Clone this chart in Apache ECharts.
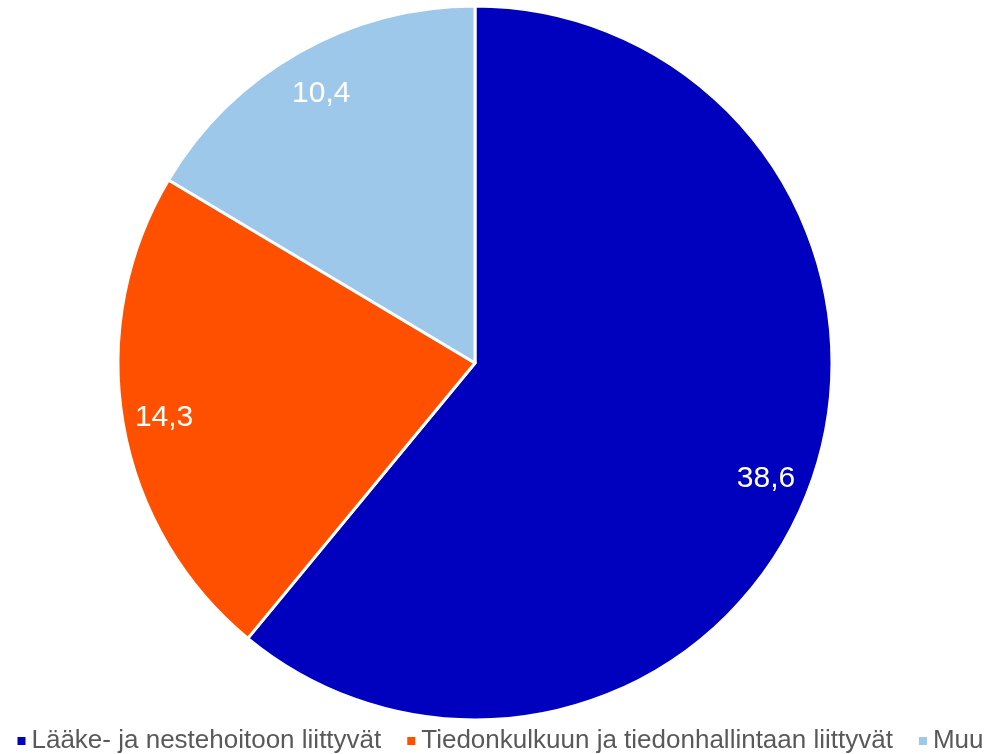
<!DOCTYPE html>
<html>
<head>
<meta charset="utf-8">
<script src="https://cdn.jsdelivr.net/npm/echarts@6/dist/echarts.min.js"></script>
<style>html,body{margin:0;padding:0;background:#fff}#c{width:999px;height:754px}</style>
</head>
<body>
<div id="c"></div>
<script>
const categories = ['Lääke- ja nestehoitoon liittyvät', 'Tiedonkulkuun ja tiedonhallintaan liittyvät', 'Muu'];
const values = [38.6, 14.3, 10.4];
const colors = ['#0000BF', '#FF5000', '#9DC8EA'];

const chart = echarts.init(document.getElementById('c'), null, {renderer: 'canvas'});
const data = categories.map((n, i) => ({name: n, value: values[i], itemStyle: {color: colors[i]}}));
const labelOffsets = [[-4, 10], [-2, 1], [1, 3]];
chart.setOption({
  animation: false,
  legend: {
    top: 728,
    left: 'center',
    padding: 0,
    itemWidth: 10,
    itemHeight: 10,
    itemGap: 24,
    icon: 'rect',
    textStyle: {fontFamily: 'Liberation Sans, Arial', fontSize: 26, color: '#595959', lineHeight: 26},
    data: categories
  },
  series: [
    {
      type: 'pie',
      center: [475, 363],
      radius: [0, 357],
      startAngle: 90,
      clockwise: true,
      label: {show: false},
      labelLine: {show: false},
      emphasis: {disabled: true},
      itemStyle: {borderColor: '#fff', borderWidth: 3},
      data: data
    },
    {
      type: 'pie',
      center: [475, 363],
      radius: [264, 357],
      startAngle: 90,
      clockwise: true,
      silent: true,
      legendHoverLink: false,
      emphasis: {disabled: true},
      itemStyle: {color: 'rgba(0,0,0,0)', borderWidth: 0},
      label: {
        show: true,
        position: 'inside',
        formatter: p => String(p.value).replace('.', ','),
        color: '#fff',
        fontSize: 30,
        fontFamily: 'Liberation Sans, Arial'
      },
      labelLine: {show: false},
      data: categories.map((n, i) => ({name: n + ' ', value: values[i], label: {offset: labelOffsets[i]}}))
    }
  ]
});
</script>
</body>
</html>
